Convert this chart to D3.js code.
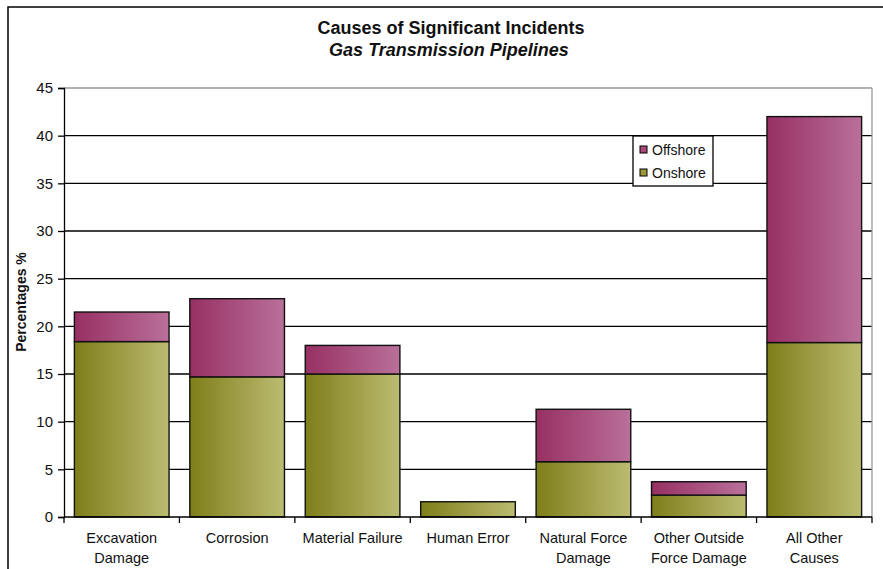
<!DOCTYPE html>
<html><head><meta charset="utf-8">
<script src="https://cdn.jsdelivr.net/npm/d3@7"></script>
<style>body{margin:0;background:#fff}svg{display:block}</style>
</head><body>
<svg id="c" width="883" height="569"></svg>
<script>
const categories = [["Excavation","Damage"],["Corrosion"],["Material Failure"],["Human Error"],["Natural Force","Damage"],["Other Outside","Force Damage"],["All Other","Causes"]];
const onshore  = [18.4, 14.7, 15.0, 1.6, 5.8, 2.3, 18.3];
const offshore = [3.1, 8.2, 3.0, 0.0, 5.5, 1.4, 23.7];
const yTicks = [0,5,10,15,20,25,30,35,40,45];
const seriesNames = ["Offshore","Onshore"];

const svg = d3.select("#c");
const W = 883, H = 569;
const m = {l:64, r:872, t:88, b:517};
const font = "Arial, 'Liberation Sans', sans-serif";

const defs = svg.append("defs");
function grad(id, c1, c2){
  const g = defs.append("linearGradient").attr("id", id).attr("x1","0").attr("x2","1").attr("y1","0").attr("y2","0");
  g.append("stop").attr("offset","0").attr("stop-color",c1);
  g.append("stop").attr("offset","1").attr("stop-color",c2);
}
grad("gOn", "#7e7e1a", "#bcbc72");
grad("gOff", "#973063", "#b9709a");

// outer frame
svg.append("rect").attr("x",8).attr("y",7).attr("width",W).attr("height",H).attr("fill","none").attr("stroke","#000").attr("stroke-width",1.5);

const keys = categories.map((c,i)=>i);
const x = d3.scaleBand().domain(keys).range([m.l, m.r]).paddingInner(0.18).paddingOuter(0.09);
const y = d3.scaleLinear().domain([0,45]).range([m.b, m.t]);

// gridlines
svg.append("g").selectAll("line").data(yTicks.filter(t=>t>0)).join("line")
  .attr("x1", m.l).attr("x2", m.r).attr("y1", d=>y(d)).attr("y2", d=>y(d))
  .attr("stroke", d=> d===45 ? "#999" : "#000").attr("stroke-width",1.3);
// right border of plot
svg.append("line").attr("x1",m.r).attr("x2",m.r).attr("y1",m.t).attr("y2",m.b).attr("stroke","#999").attr("stroke-width",1.3);

// bars
const stack = d3.stack().keys(["on","off"])(keys.map(i=>({on:onshore[i], off:offshore[i]})));
const fills = {on:"url(#gOn)", off:"url(#gOff)"};
stack.forEach(s=>{
  svg.append("g").selectAll("rect").data(s.filter(d=>d[1]-d[0]>0)).join("rect")
    .attr("x", (d)=>x(s.indexOf(d)))
    .attr("y", d=>y(d[1]))
    .attr("width", x.bandwidth())
    .attr("height", d=>y(d[0])-y(d[1]))
    .attr("fill", fills[s.key]).attr("stroke","#111").attr("stroke-width",1.4);
});

// y axis
const ya = svg.append("g").attr("transform",`translate(${m.l},0)`)
  .call(d3.axisLeft(y).tickValues(yTicks).tickSize(6).tickPadding(5).tickFormat(d3.format("d")));
ya.select(".domain").attr("stroke","#000").attr("stroke-width",1.3);
ya.selectAll(".tick line").attr("stroke","#000").attr("stroke-width",1.3);
ya.selectAll("text").attr("font-family",font).attr("font-size",15).attr("fill","#111");

// x axis
const xa = svg.append("g").attr("transform",`translate(0,${m.b})`);
xa.append("line").attr("x1",m.l).attr("x2",m.r).attr("stroke","#000").attr("stroke-width",1.3);
const bounds = d3.range(categories.length+1).map(i=>m.l + i*(m.r-m.l)/categories.length);
xa.selectAll("line.tk").data(bounds).join("line").attr("class","tk")
  .attr("x1",d=>d).attr("x2",d=>d).attr("y1",0).attr("y2",6).attr("stroke","#000").attr("stroke-width",1.3);
xa.selectAll("text").data(keys).join("text")
  .attr("x", i=>x(i)+x.bandwidth()/2).attr("y",26)
  .attr("text-anchor","middle").attr("font-family",font).attr("font-size",14.5).attr("fill","#111")
  .each(function(i){
    const t = d3.select(this);
    categories[i].forEach((ln,k)=>t.append("tspan").attr("x", x(i)+x.bandwidth()/2).attr("dy", k===0?0:20).text(ln));
  });

// titles
svg.append("text").attr("x",451).attr("y",34).attr("text-anchor","middle")
  .attr("font-family",font).attr("font-size",18).attr("font-weight","bold").attr("fill","#111")
  .text("Causes of Significant Incidents");
svg.append("text").attr("x",449).attr("y",56).attr("text-anchor","middle")
  .attr("font-family",font).attr("font-size",18).attr("font-style","italic").attr("font-weight","bold").attr("fill","#111")
  .text("Gas Transmission Pipelines");

// y label
svg.append("text").attr("transform","translate(26,302) rotate(-90)").attr("text-anchor","middle")
  .attr("font-family",font).attr("font-size",14).attr("font-weight","bold").attr("fill","#111")
  .text("Percentages %");

// legend
const lg = svg.append("g").attr("transform","translate(633,136)");
lg.append("rect").attr("width",80).attr("height",50).attr("fill","#fff").attr("stroke","#000").attr("stroke-width",1.3);
const lgFill = ["#a84877","#9a9a3c"];
seriesNames.forEach((n,k)=>{
  lg.append("rect").attr("x",7).attr("y",10+k*23).attr("width",7).attr("height",7).attr("fill",lgFill[k]).attr("stroke","#000").attr("stroke-width",1);
  lg.append("text").attr("x",19).attr("y",19+k*23).attr("font-family",font).attr("font-size",14).attr("fill","#111").text(n);
});
</script>
</body></html>
